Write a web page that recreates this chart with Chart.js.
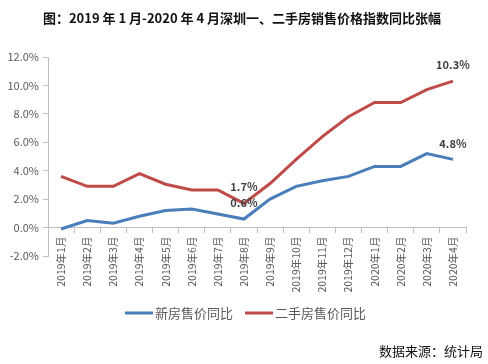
<!DOCTYPE html>
<html>
<head>
<meta charset="utf-8">
<script src="https://cdn.jsdelivr.net/npm/chart.js@4/dist/chart.umd.min.js"></script>
<style>
html,body{margin:0;padding:0;background:#fff;}
#wrap{width:488px;height:364px;position:relative;}
</style>
</head>
<body>
<div id="wrap"><canvas id="c" width="488" height="364"></canvas></div>
<script>
const categories = ['2019年1月','2019年2月','2019年3月','2019年4月','2019年5月','2019年6月','2019年7月','2019年8月','2019年9月','2019年10月','2019年11月','2019年12月','2020年1月','2020年2月','2020年3月','2020年4月'];
const newHome = [-0.1, 0.5, 0.3, 0.8, 1.2, 1.3, 0.95, 0.6, 2.0, 2.9, 3.3, 3.6, 4.3, 4.3, 5.2, 4.8];
const secondHand = [3.6, 2.9, 2.9, 3.8, 3.05, 2.65, 2.65, 1.7, 3.1, 4.8, 6.4, 7.8, 8.8, 8.8, 9.7, 10.3];
const seriesNames = ['新房售价同比', '二手房售价同比'];
const yTicks = [-2, 0, 2, 4, 6, 8, 10, 12];
const labeled = [{ds:1, i:7}, {ds:0, i:7}, {ds:1, i:15}, {ds:0, i:15}];
const titleText = '图：2019 年 1 月-2020 年 4 月深圳一、二手房销售价格指数同比张幅';
const sourceText = '数据来源：统计局';

const FONT = '"Noto Sans CJK SC", "Noto Sans", sans-serif';

const extras = {
  id: 'extras',
  afterDraw(chart) {
    const ctx = chart.ctx;
    ctx.save();
    // title
    ctx.fillStyle = '#111';
    ctx.font = 'bold 13px ' + FONT;
    ctx.textAlign = 'center';
    ctx.textBaseline = 'middle';
    ctx.fillText(titleText, 242, 18);
    // data labels
    ctx.font = 'bold 11px ' + FONT;
    ctx.fillStyle = '#404040';
    labeled.forEach(l => {
      const p = chart.getDatasetMeta(l.ds).data[l.i];
      const v = chart.data.datasets[l.ds].data[l.i];
      const dy = (l.i === 7) ? (l.ds === 1 ? -17 : -16) : -16;
      ctx.fillText(v.toFixed(1) + '%', p.x, p.y + dy);
    });
    // legend
    ctx.font = '13px ' + FONT;
    ctx.textAlign = 'left';
    const items = [{x: 125, ds: 0}, {x: 245, ds: 1}];
    items.forEach(it => {
      const ds = chart.data.datasets[it.ds];
      ctx.strokeStyle = ds.borderColor;
      ctx.lineWidth = 3;
      ctx.beginPath();
      ctx.moveTo(it.x, 313);
      ctx.lineTo(it.x + 28, 313);
      ctx.stroke();
      ctx.fillStyle = '#595959';
      ctx.fillText(ds.label, it.x + 30, 313);
    });
    // source
    ctx.fillStyle = '#111';
    ctx.textAlign = 'right';
    ctx.fillText(sourceText, 483, 351);
    ctx.restore();
  }
};

new Chart(document.getElementById('c'), {
  type: 'line',
  data: {
    labels: categories,
    datasets: [
      {label: seriesNames[0], data: newHome, borderColor: '#4a7ebb', borderWidth: 3, pointRadius: 0, tension: 0, fill: false},
      {label: seriesNames[1], data: secondHand, borderColor: '#be4b48', borderWidth: 3, pointRadius: 0, tension: 0, fill: false}
    ]
  },
  options: {
    responsive: false,
    animation: false,
    layout: {padding: {top: 57, right: 22, bottom: 108, left: 0}},
    plugins: {legend: {display: false}, tooltip: {enabled: false}},
    scales: {
      x: {
        type: 'category',
        offset: true,
        position: {y: 0},
        border: {color: '#bfbfbf', width: 1},
        grid: {offset: true, drawOnChartArea: false, drawTicks: true, tickLength: 5, color: '#bfbfbf'},
        ticks: {minRotation: 90, maxRotation: 90, autoSkip: false, padding: 4, color: '#595959', font: {size: 10.5, family: FONT}}
      },
      y: {
        min: -2, max: 12,
        afterBuildTicks(s) { s.ticks = yTicks.map(v => ({value: v})); },
        afterFit(s) { s.width = 48; },
        border: {color: '#bfbfbf', width: 1},
        grid: {drawOnChartArea: false, drawTicks: true, tickLength: 5, color: '#bfbfbf'},
        ticks: {padding: 4, color: '#595959', font: {size: 11, family: FONT}, callback: v => v.toFixed(1) + '%'}
      }
    }
  },
  plugins: [extras]
});
</script>
</body>
</html>
